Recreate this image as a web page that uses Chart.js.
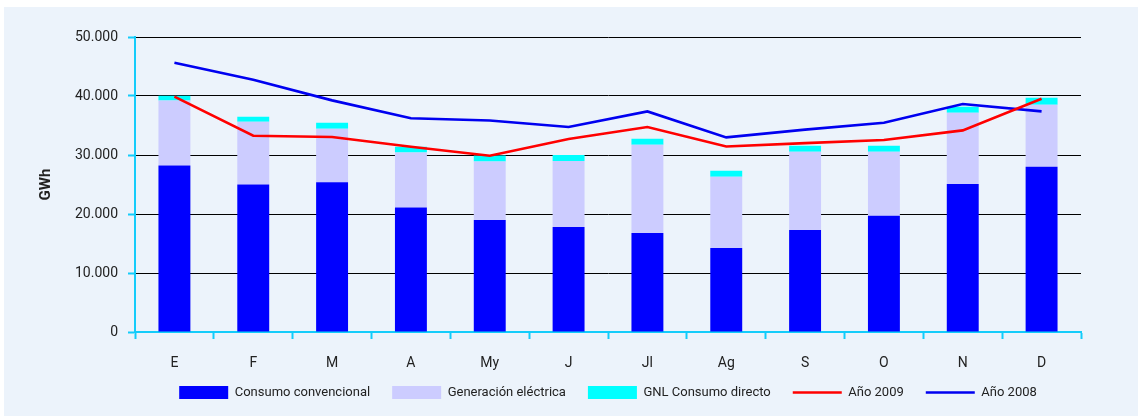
<!DOCTYPE html>
<html>
<head>
<meta charset="utf-8">
<script src="https://cdn.jsdelivr.net/npm/chart.js@4/dist/chart.umd.min.js"></script>
<style>
  html, body { margin: 0; padding: 0; background: #ffffff; width: 1138px; height: 416px; overflow: hidden; }
  #panel { position: absolute; left: 4px; top: 7px; width: 1134px; height: 410px; background: #ECF3FB; }
</style>
</head>
<body>
<div id="panel"><canvas id="c"></canvas></div>
<script>
const months = ['E', 'F', 'M', 'A', 'My', 'J', 'Jl', 'Ag', 'S', 'O', 'N', 'D'];
const consumoConvencional = [28200, 25000, 25400, 21100, 19000, 17800, 16800, 14250, 17300, 19700, 25100, 28000];
const generacionElectrica = [11050, 10640, 9050, 9330, 9900, 11200, 14940, 12050, 13250, 10850, 12070, 10520];
const gnlConsumoDirecto = [800, 850, 1020, 970, 1020, 1020, 1010, 1020, 1020, 1020, 1010, 1190];
const anio2009 = [39880, 33260, 33040, 31400, 29870, 32700, 34740, 31450, 32020, 32530, 34170, 39540];
const anio2008 = [45650, 42770, 39260, 36230, 35860, 34740, 37390, 32980, 34300, 35470, 38640, 37390];
const yTickValues = [0, 10000, 20000, 30000, 40000, 50000];
const yTickLabels = ['0', '10.000', '20.000', '30.000', '40.000', '50.000'];

const FONT = 'Roboto, "DejaVu Sans", sans-serif';
const CYAN = '#14CCFA';
const TEXT = '#222222';

const legendShift = {
  id: 'legendShift',
  afterLayout(chart) {
    const l = chart.legend;
    if (l) { l.top -= 8; l.bottom -= 8; }
  }
};

new Chart(document.getElementById('c'), {
  data: {
    labels: months,
    datasets: [
      { type: 'bar', label: 'Consumo convencional', data: consumoConvencional, backgroundColor: '#0000FF', stack: 'bars', order: 2, pointStyle: 'rect' },
      { type: 'bar', label: 'Generación eléctrica', data: generacionElectrica, backgroundColor: '#CCCCFF', stack: 'bars', order: 2, pointStyle: 'rect' },
      { type: 'bar', label: 'GNL Consumo directo', data: gnlConsumoDirecto, backgroundColor: '#00FFFF', stack: 'bars', order: 2, pointStyle: 'rect' },
      { type: 'line', label: 'Año 2009', data: anio2009, borderColor: '#FF0000', backgroundColor: '#FF0000', borderWidth: 2.6, pointRadius: 0, tension: 0, stack: 'l2009', order: 0, pointStyle: 'line' },
      { type: 'line', label: 'Año 2008', data: anio2008, borderColor: '#0000F0', backgroundColor: '#0000F0', borderWidth: 2.6, pointRadius: 0, tension: 0, stack: 'l2008', order: 1, pointStyle: 'line' }
    ]
  },
  plugins: [legendShift],
  options: {
    responsive: true,
    maintainAspectRatio: false,
    animation: false,
    layout: { padding: { top: 30, right: 57, bottom: 0, left: 0 } },
    datasets: { bar: { categoryPercentage: 1, barPercentage: 0.405 } },
    plugins: {
      tooltip: { enabled: false },
      legend: {
        position: 'bottom',
        fullSize: false,
        labels: {
          usePointStyle: true,
          pointStyleWidth: 49,
          boxHeight: 13,
          padding: 22,
          color: TEXT,
          font: { family: FONT, size: 13 },
          sort: (a, b) => a.datasetIndex - b.datasetIndex
        }
      }
    },
    scales: {
      x: {
        stacked: true,
        afterFit: (a) => { a.height = 40; },
        border: { color: CYAN, width: 2 },
        grid: { drawOnChartArea: false, drawTicks: true, tickLength: 7, tickColor: CYAN, tickWidth: 2, offset: true },
        ticks: { color: TEXT, padding: 16, font: { family: FONT, size: 14 }, maxRotation: 0 }
      },
      y: {
        stacked: true,
        min: 0,
        max: 50000,
        afterFit: (a) => { a.width = 131; },
        afterBuildTicks: (a) => { a.ticks = yTickValues.map(v => ({ value: v })); },
        border: { color: CYAN, width: 2 },
        grid: { color: '#000000', lineWidth: 1, tickLength: 7, tickColor: CYAN, tickWidth: 2 },
        ticks: {
          color: TEXT,
          padding: 10,
          font: { family: FONT, size: 14 },
          callback: (v) => { const i = yTickValues.indexOf(v); return i >= 0 ? yTickLabels[i] : ''; }
        },
        title: { display: true, text: 'GWh', color: TEXT, font: { family: FONT, size: 15, weight: 'bold' }, padding: { top: 33, bottom: 0 } }
      }
    }
  }
});
</script>
</body>
</html>
